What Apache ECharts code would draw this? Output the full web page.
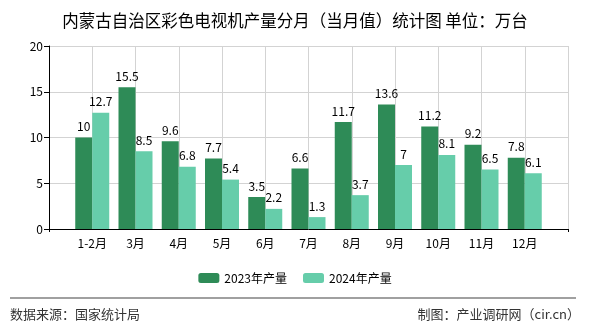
<!DOCTYPE html>
<html><head><meta charset="utf-8">
<script src="https://cdn.jsdelivr.net/npm/echarts@6/dist/echarts.min.js"></script>
<style>html,body{margin:0;padding:0;background:#fff;}#c{width:590px;height:330px;}</style>
</head><body><div id="c"></div>
<script>
var categories = ['1-2月','3月','4月','5月','6月','7月','8月','9月','10月','11月','12月'];
var series2023 = [10, 15.5, 9.6, 7.7, 3.5, 6.6, 11.7, 13.6, 11.2, 9.2, 7.8];
var series2024 = [12.7, 8.5, 6.8, 5.4, 2.2, 1.3, 3.7, 7, 8.1, 6.5, 6.1];
var seriesNames = ['2023年产量','2024年产量'];
var yTicks = [0, 5, 10, 15, 20];

var cats = [''].concat(categories).concat(['']);
function pad(a){ return [null].concat(a).concat([null]); }
var F = '"Noto Sans CJK SC", sans-serif';
var chart = echarts.init(document.getElementById('c'), null, {renderer:'canvas'});
chart.setOption({
  animation:false,
  title:{text:'内蒙古自治区彩色电视机产量分月（当月值）统计图 单位：万台', left:'center', top:7,
    textStyle:{fontSize:16.5, fontWeight:'normal', color:'#000', fontFamily:F}},
  legend:{bottom:41, left:'center', itemWidth:21, itemHeight:10, itemGap:16,
    textStyle:{fontSize:12, color:'#000', fontFamily:F}, data:seriesNames},
  grid:{left:49, right:22, top:46, bottom:101, containLabel:false},
  xAxis:{type:'category', data:cats, boundaryGap:false,
    axisLine:{lineStyle:{color:'#000'}},
    axisTick:{show:true, length:3, interval:function(i){return i===0||i===cats.length-1;}, lineStyle:{color:'#000'}},
    axisLabel:{interval:0, color:'#000', fontSize:12, fontFamily:F, margin:8},
    splitLine:{show:true, interval:0, lineStyle:{color:'#d3d3d3'}}},
  yAxis:{type:'value', min:yTicks[0], max:yTicks[yTicks.length-1], interval:5,
    axisLine:{show:true, lineStyle:{color:'#000'}},
    axisTick:{show:true, length:5, lineStyle:{color:'#000'}},
    axisLabel:{color:'#000', fontSize:12, fontFamily:F, margin:6},
    splitLine:{lineStyle:{color:'#d3d3d3'}}},
  series:[
    {name:seriesNames[0], type:'bar', data:pad(series2023), barWidth:17, barGap:'0%',
      itemStyle:{color:'#2E8B57'},
      label:{show:true, position:'top', distance:5, color:'#000', fontSize:12, fontFamily:F}},
    {name:seriesNames[1], type:'bar', data:pad(series2024), barWidth:17, barGap:'0%',
      itemStyle:{color:'#66CDAA'},
      label:{show:true, position:'top', distance:5, color:'#000', fontSize:12, fontFamily:F}}
  ],
  graphic:[
    {type:'line', shape:{x1:10, y1:298, x2:576, y2:298}, style:{stroke:'#808080', lineWidth:1.5}},
    {type:'text', left:10, top:308, style:{text:'数据来源：国家统计局', fontSize:13, fill:'#333', fontFamily:F}},
    {type:'text', right:10, top:308, style:{text:'制图：产业调研网（cir.cn）', fontSize:13, fill:'#333', fontFamily:F}}
  ]
});
</script></body></html>
